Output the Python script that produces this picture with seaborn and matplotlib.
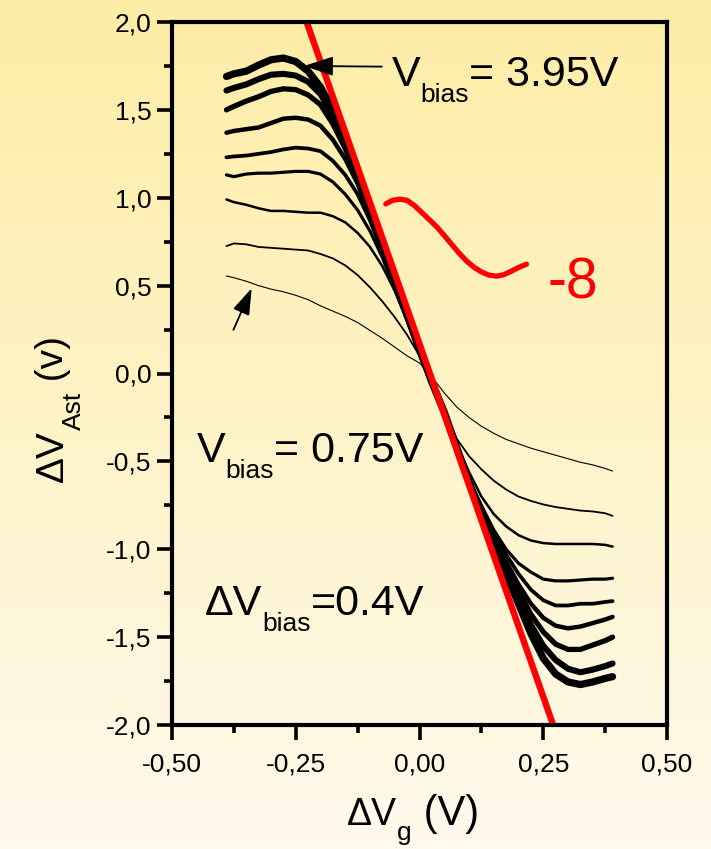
import numpy as np
import pandas as pd
import matplotlib
matplotlib.use("Agg")
import matplotlib.pyplot as plt
import seaborn as sns
from matplotlib.colors import LinearSegmentedColormap
from matplotlib.transforms import IdentityTransform

# ---------------- data ----------------
vg = [-0.39, -0.375, -0.35, -0.325, -0.30, -0.275, -0.25, -0.225, -0.20, -0.175,
      -0.15, -0.125, -0.10, -0.075, -0.05, -0.025, 0.0, 0.025, 0.05, 0.075,
      0.10, 0.125, 0.15, 0.175, 0.20, 0.225, 0.25, 0.275, 0.30, 0.325,
      0.35, 0.375, 0.39]

vbias = [0.75, 1.15, 1.55, 1.95, 2.35, 2.75, 3.15, 3.55, 3.95]

c075 = [0.555, 0.545, 0.525, 0.50, 0.48, 0.465, 0.445, 0.42, 0.385, 0.355,
        0.325, 0.29, 0.245, 0.20, 0.15, 0.10, 0.06, -0.02, -0.11, -0.19,
        -0.25, -0.30, -0.34, -0.375, -0.40, -0.425, -0.445, -0.465, -0.485, -0.505,
        -0.52, -0.54, -0.555]
c115 = [0.725, 0.74, 0.735, 0.72, 0.715, 0.71, 0.705, 0.70, 0.68, 0.655,
        0.615, 0.56, 0.49, 0.41, 0.32, 0.22, 0.10, -0.05, -0.21, -0.37,
        -0.47, -0.545, -0.61, -0.66, -0.70, -0.725, -0.745, -0.76, -0.77, -0.78,
        -0.785, -0.795, -0.81]
c155 = [0.99, 0.975, 0.96, 0.94, 0.925, 0.925, 0.92, 0.915, 0.915, 0.895,
        0.86, 0.80, 0.72, 0.61, 0.47, 0.30, 0.12, -0.05, -0.22, -0.40,
        -0.56, -0.70, -0.80, -0.87, -0.92, -0.95, -0.965, -0.97, -0.97, -0.97,
        -0.97, -0.975, -0.985]
c195 = [1.13, 1.12, 1.135, 1.14, 1.14, 1.145, 1.15, 1.15, 1.135, 1.09,
        1.02, 0.93, 0.81, 0.66, 0.48, 0.30, 0.12, -0.05, -0.22, -0.41,
        -0.60, -0.75, -0.89, -1.00, -1.08, -1.13, -1.17, -1.18, -1.18, -1.175,
        -1.17, -1.17, -1.165]
c235 = [1.23, 1.235, 1.24, 1.25, 1.26, 1.275, 1.285, 1.28, 1.265, 1.21,
        1.13, 1.02, 0.87, 0.69, 0.50, 0.31, 0.12, -0.05, -0.22, -0.42,
        -0.61, -0.76, -0.90, -1.03, -1.14, -1.23, -1.29, -1.32, -1.32, -1.31,
        -1.31, -1.30, -1.295]
c275 = [1.37, 1.38, 1.39, 1.40, 1.425, 1.45, 1.455, 1.445, 1.41, 1.33,
        1.22, 1.08, 0.90, 0.71, 0.51, 0.31, 0.12, -0.05, -0.22, -0.42,
        -0.62, -0.78, -0.93, -1.07, -1.20, -1.31, -1.39, -1.435, -1.45, -1.44,
        -1.42, -1.40, -1.385]
c315 = [1.50, 1.52, 1.55, 1.575, 1.605, 1.62, 1.615, 1.585, 1.53, 1.42,
        1.28, 1.11, 0.92, 0.72, 0.52, 0.32, 0.12, -0.05, -0.22, -0.42,
        -0.62, -0.79, -0.95, -1.10, -1.24, -1.37, -1.47, -1.54, -1.57, -1.57,
        -1.545, -1.52, -1.50]
c355 = [1.61, 1.625, 1.645, 1.675, 1.70, 1.705, 1.695, 1.66, 1.59, 1.47,
        1.31, 1.13, 0.93, 0.73, 0.53, 0.33, 0.13, -0.05, -0.22, -0.42,
        -0.62, -0.80, -0.97, -1.13, -1.28, -1.43, -1.55, -1.63, -1.68, -1.70,
        -1.685, -1.665, -1.65]
c395 = [1.69, 1.705, 1.72, 1.755, 1.785, 1.795, 1.775, 1.72, 1.63, 1.50,
        1.33, 1.14, 0.94, 0.74, 0.54, 0.34, 0.14, -0.05, -0.22, -0.42,
        -0.62, -0.80, -0.98, -1.14, -1.31, -1.48, -1.62, -1.71, -1.755, -1.77,
        -1.755, -1.735, -1.725]
curves = [c075, c115, c155, c195, c235, c275, c315, c355, c395]

# red slope line (slope ~ -8)
fit_x = [-0.228, 0.270]
fit_y = [2.0, -2.0]

# red squiggle
sq_x = [-0.068, -0.055, -0.040, -0.025, -0.010, 0.005, 0.020, 0.036, 0.050,
        0.065, 0.080, 0.095, 0.110, 0.125, 0.140, 0.156, 0.170, 0.184, 0.200,
        0.216]
sq_y = [0.965, 0.985, 0.992, 0.985, 0.955, 0.915, 0.875, 0.831, 0.785,
        0.735, 0.685, 0.640, 0.605, 0.578, 0.560, 0.554, 0.562, 0.580, 0.603,
        0.622]

xticks = [-0.50, -0.25, 0.0, 0.25, 0.50]
xticklabels = ["-0,50", "-0,25", "0,00", "0,25", "0,50"]
yticks = [-2.0, -1.5, -1.0, -0.5, 0.0, 0.5, 1.0, 1.5, 2.0]
yticklabels = ["-2,0", "-1,5", "-1,0", "-0,5", "0,0", "0,5", "1,0", "1,5", "2,0"]

# ---------------- style ----------------
sns.set_style("ticks")
plt.rcParams["font.family"] = ["Liberation Sans", "DejaVu Sans"]
plt.rcParams["text.color"] = "black"
plt.rcParams["xtick.color"] = "black"
plt.rcParams["ytick.color"] = "black"
plt.rcParams["xtick.labelcolor"] = "black"
plt.rcParams["ytick.labelcolor"] = "black"

W, H, DPI = 711, 849, 100
fig = plt.figure(figsize=(W / DPI, H / DPI), dpi=DPI)

# gradient background
bg = fig.add_axes([0, 0, 1, 1], zorder=-10)
cmap = LinearSegmentedColormap.from_list(
    "bg", [(0.0, "#FFFAEC"), (0.5, "#FEF3C8"), (1.0, "#FEEDA6")])
grad = np.linspace(0, 1, 256).reshape(-1, 1)
bg.imshow(grad, aspect="auto", cmap=cmap, origin="lower", extent=[0, 1, 0, 1])
bg.axis("off")

L, R, T, B = 172, 667, 22, 725
ax = fig.add_axes([L / W, 1 - B / H, (R - L) / W, (B - T) / H])
ax.set_facecolor("none")

rows = []
for vb, cv in zip(vbias, curves):
    for x, y in zip(vg, cv):
        rows.append({"vg": x, "dv": y, "vbias": vb})
df = pd.DataFrame(rows)

widths = [0.8, 1.3, 1.8, 2.3, 2.7, 3.2, 3.8, 4.4, 5.2]
for vb, lw in zip(vbias, widths):
    sub = df[df["vbias"] == vb]
    sns.lineplot(data=sub, x="vg", y="dv", color="black", linewidth=lw,
                 ax=ax, sort=False, legend=False, estimator=None,
                 solid_capstyle="round", solid_joinstyle="round")

sns.lineplot(x=fit_x, y=fit_y, color="#FF0000", linewidth=4.6, ax=ax,
             sort=False, estimator=None, solid_capstyle="butt", clip_on=False)
sns.lineplot(x=sq_x, y=sq_y, color="#FF0000", linewidth=3.8, ax=ax,
             sort=False, estimator=None, solid_capstyle="round",
             solid_joinstyle="round")

ax.set_xlim(-0.5, 0.5)
ax.set_ylim(-2.0, 2.0)
ax.set_xticks(xticks)
ax.set_xticklabels(xticklabels)
ax.set_yticks(yticks)
ax.set_yticklabels(yticklabels)
ax.set_xticks([-0.375, -0.125, 0.125, 0.375], minor=True)
ax.set_yticks([-1.75, -1.25, -0.75, -0.25, 0.25, 0.75, 1.25, 1.75], minor=True)
ax.tick_params(axis="both", which="major", direction="out", length=11,
               width=2.6, labelsize=19, color="black", labelcolor="black")
ax.tick_params(axis="x", which="major", pad=9)
ax.tick_params(axis="y", which="major", pad=4)
ax.tick_params(axis="both", which="minor", direction="out", length=6,
               width=2.6, color="black")
ax.tick_params(top=False, right=False, which="both")
ax.set_xlabel("")
ax.set_ylabel("")
for s in ax.spines.values():
    s.set_linewidth(3.0)
    s.set_color("black")

ax.text(0.258, 0.424, "-8", fontsize=41, color="#FF0000", ha="left",
        va="baseline")

ax.annotate("", xy=(-0.233, 1.75), xytext=(-0.076, 1.746),
            arrowprops=dict(arrowstyle="-|>,head_length=0.9,head_width=0.3",
                            color="black", lw=1.3, mutation_scale=20,
                            shrinkA=0, shrinkB=0))
ax.annotate("", xy=(-0.339, 0.485), xytext=(-0.376, 0.248),
            arrowprops=dict(arrowstyle="-|>,head_length=0.9,head_width=0.3",
                            color="black", lw=1.3, mutation_scale=18,
                            shrinkA=0, shrinkB=0))

# composite texts with subscripts (positions in image pixels, y from top)
fig.canvas.draw()
renderer = fig.canvas.get_renderer()
ident = IdentityTransform()


def compose(x_img, y_img, parts, rotation=0):
    """parts: list of (string, fontsize, drop_px)"""
    if rotation == 0:
        pos = x_img
        for s, fs, drop in parts:
            t = fig.text(pos, H - y_img - drop, s, fontsize=fs, ha="left",
                         va="baseline", transform=ident, color="black")
            pos = t.get_window_extent(renderer).x1
    else:
        pos = H - y_img
        for s, fs, drop in parts:
            t = fig.text(x_img + drop, pos, s, fontsize=fs, ha="left",
                         va="baseline", rotation=90, rotation_mode="anchor",
                         transform=ident, color="black")
            pos = t.get_window_extent(renderer).y1


compose(392, 86.5, [("V", 31, 0), ("bias", 19, 16), ("= 3.95V", 31, 0)])
compose(197, 462, [("V", 31, 0), ("bias", 19, 16), ("= 0.75V", 31, 0)])
compose(205, 615, [("ΔV", 31, 0), ("bias", 19, 16), ("=0.4V", 31, 0)])
compose(347, 825, [("ΔV", 27, 0), ("g", 19, 15), (" (V)", 30, 0)])
compose(63, 482, [("ΔV", 28, 0), ("Ast", 19, 18), (" (v)", 28, 0)],
        rotation=90)

fig.savefig("out.png", dpi=DPI)
